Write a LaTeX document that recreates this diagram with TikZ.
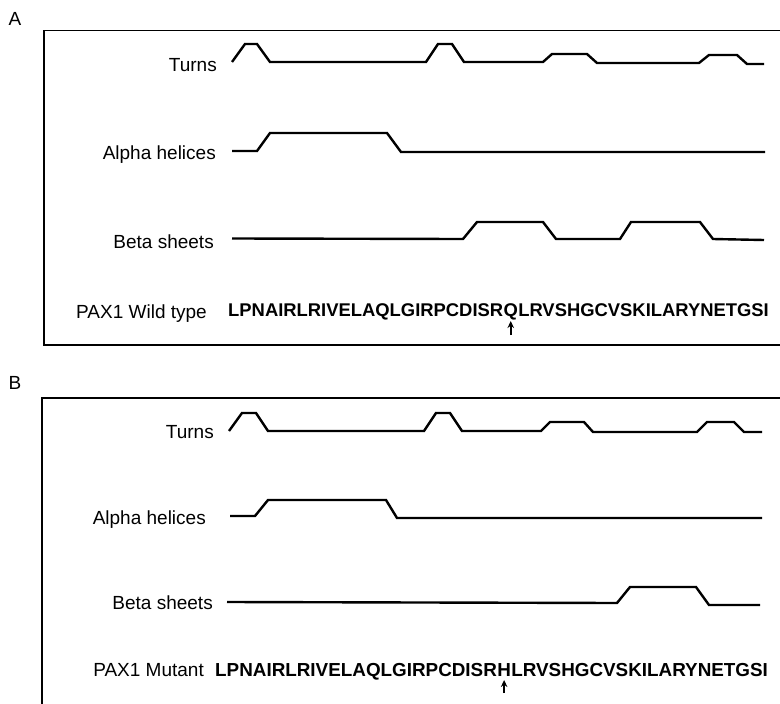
\documentclass[tikz,border=0pt]{standalone}
\usepackage{fontspec}
\setmainfont{Liberation Sans}
\usetikzlibrary{arrows.meta}
\begin{document}
\begin{tikzpicture}[x=1pt,y=-1pt,
  prof/.style={line width=2.4pt, line join=miter},
  frame/.style={line width=1.4pt},
  lab/.style={anchor=base east, inner sep=0pt, font=\fontsize{19}{21}\selectfont},
  seqtxt/.style={anchor=base west, inner sep=0pt, font=\fontsize{18.4}{20}\selectfont\bfseries},
  seqtxtb/.style={seqtxt, font=\fontsize{18.85}{20}\selectfont\bfseries},
  panel/.style={anchor=base, inner sep=0pt, font=\fontsize{19}{20}\selectfont},
  uparrow/.style={-{Stealth[length=7pt,width=6.5pt]}, line width=2pt}
]
\useasboundingbox (0,0) rectangle (780,704);
\clip (0,0) rectangle (780,704);

% ---------------- Panel A ----------------
\node[panel] (pA) at (15,25) {A};
\draw[frame] (795,30.5) -- (44,30.5) -- (44,345) -- (795,345);

\node[lab] (tA) at (217,71) {Turns};
\node[lab] (aA) at (216,159) {Alpha helices};
\node[lab] (bA) at (214,248) {Beta sheets};
\node[lab] (wA) at (207,318) {PAX1 Wild type};

\draw[prof] (232,62) -- (245,44) -- (257,44) -- (270,62) -- (426,62) -- (438,44) -- (452,44) -- (464,62)
  -- (543,62) -- (552,54) -- (587,54) -- (597,63) -- (699,63) -- (709,55) -- (737,55) -- (747,64) -- (764,64);
\draw[prof] (232,151) -- (257,151) -- (270,133) -- (387,133) -- (401,152) -- (765,152);
\draw[prof] (232,238.5) -- (463,239) -- (477,222) -- (543,222) -- (556,239) -- (620,239) -- (631,222)
  -- (700,222) -- (713,239) -- (764,240);

\node[seqtxt] (sa1) at (228,316) {LPNAIRLRIVELAQLGIRPCDISR};
\node[seqtxt] (qa) at (sa1.base east) {Q};
\node[seqtxt] (sa2) at (qa.base east) {LRVSHGCVSKILARYNETGSI};
\draw[uparrow] ([yshift=-19pt]qa.base) -- ([yshift=-5pt]qa.base);

% ---------------- Panel B ----------------
\node[panel] (pB) at (15,389) {B};
\draw[frame] (795,398) -- (42,398) -- (42,712);

\node[lab] (tB) at (214,438) {Turns};
\node[lab] (aB) at (206,524) {Alpha helices};
\node[lab] (bB) at (213,609) {Beta sheets};
\node[lab] (mB) at (204,676) {PAX1 Mutant};

\draw[prof] (229,431) -- (242,413) -- (256,413) -- (268,431) -- (424,431) -- (436,413) -- (450,413) -- (462,431)
  -- (541,431) -- (550,422) -- (584,422) -- (593,432) -- (697,432) -- (707,422) -- (734,422) -- (744,432) -- (762,432);
\draw[prof] (230,516) -- (255,516) -- (268,500) -- (386,500) -- (397,518) -- (762,518);
\draw[prof] (227,602) -- (617,603) -- (630,587) -- (696,587) -- (709,605) -- (760,605);

\node[seqtxtb] (sb1) at (215,676) {LPNAIRLRIVELAQLGIRPCDISR};
\node[seqtxtb] (hb) at (sb1.base east) {H};
\node[seqtxtb] (sb2) at (hb.base east) {LRVSHGCVSKILARYNETGSI};
\draw[uparrow] ([yshift=-17pt]hb.base) -- ([yshift=-4pt]hb.base);
\end{tikzpicture}
\end{document}
